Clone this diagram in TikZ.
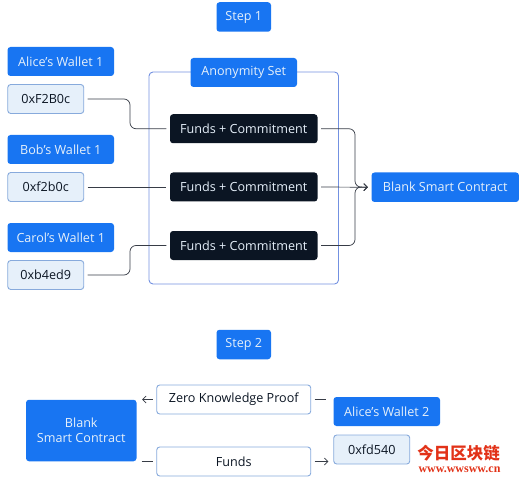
\documentclass[tikz,border=0pt]{standalone}
\usepackage{fontspec}
\setmainfont{Open Sans}
\newfontfamily\cjkfont{Noto Sans CJK SC}
\newfontfamily\markfont{Liberation Serif}
\definecolor{blankBlue}{RGB}{24,117,242}
\definecolor{blankDark}{RGB}{11,21,35}
\definecolor{blankLight}{RGB}{230,240,250}
\definecolor{blankEdge}{RGB}{135,170,220}
\definecolor{blankLine}{RGB}{55,60,70}
\definecolor{markRed}{RGB}{226,50,24}
\usetikzlibrary{arrows.meta,positioning,calc}

\begin{document}
\begin{tikzpicture}[
    x=1pt, y=-1pt,
    box/.style={rounded corners=3pt, inner sep=0pt, font=\fontsize{12.6}{15}\selectfont, align=center},
    blue/.style={box, fill=blankBlue, text=blankLight},
    addr/.style={box, draw=blankEdge, line width=0.9pt, fill=blankLight, text=blankDark,
      minimum width=76pt, minimum height=29pt},
    plain/.style={box, draw=blankEdge, line width=0.9pt, fill=white, text=blankDark,
      minimum width=154pt, minimum height=29pt},
    funds/.style={box, fill=blankDark, text=blankLight, minimum width=147.5pt, minimum height=29pt},
    wallet/.style={blue, minimum width=106.5pt, minimum height=29pt},
    stepbox/.style={blue, minimum width=54.5pt, minimum height=29.5pt},
    link/.style={blankLine, line width=0.7pt, shorten <=3.5pt, shorten >=3.5pt},
    tip/.style={-{Straight Barb[length=3.5pt,width=7pt]}}
  ]
  \useasboundingbox (0,0) rectangle (519,481);
  \draw[blankEdge!85!blue, rounded corners=4pt, line width=0.9pt] (149,72) rectangle (338.5,284);

  \node[stepbox] (step1) at (243.75,17) {Step 1};
  \node[wallet] (set) at (243.75,72.5) {Anonymity Set};
  \node[blue, minimum width=147.5pt, minimum height=29.5pt] (contract1) at (445.25,187.25) {Blank Smart Contract};

  \foreach \n/\name/\hash/\y/\fy in {1/Alice/0xF2B0c/61.5/128.75, 2/Bob/0xf2b0c/149.5/187, 3/Carol/0xb4ed9/237.5/245.5} {
    \node[wallet] (wallet\n) at (60.75,\y) {\name’s Wallet 1};
    \node[addr] (addr\n) at (45.75,\y+37.5) {\hash};
    \node[funds] (funds\n) at (243.75,\fy) {Funds + Commitment};
  }

  \coordinate (bendL) at (130,187);
  \coordinate (bendR) at (355,187);
  \draw[link, rounded corners=6pt] (addr1.east) -- (addr1.east -| bendL) -- (funds1.west -| bendL) -- (funds1.west);
  \draw[link] (addr2.east) -- (funds2.west);
  \draw[link, rounded corners=6pt] (addr3.east) -- (addr3.east -| bendL) -- (funds3.west -| bendL) -- (funds3.west);
  \draw[link, tip, rounded corners=6pt] (funds1.east) -- (funds1.east -| bendR) -- (bendR) -- (contract1.west);
  \draw[link, tip] (funds2.east) -- (contract1.west);
  \draw[link, tip, rounded corners=6pt] (funds3.east) -- (funds3.east -| bendR) -- (bendR) -- (contract1.west);

  \node[stepbox] (step2) at (243.75,344.5) {Step 2};
  \node[plain] (proof) at (233.75,399.5) {Zero Knowledge Proof};
  \node[plain] (cash) at (233.75,461.5) {Funds};
  \node[blue, minimum width=110.5pt, minimum height=61.5pt] (contract2) at (81.25,430.5) {Blank\\Smart Contract};
  \node[wallet] (wallet4) at (386.75,411.5) {Alice’s Wallet 2};
  \node[addr] (addr4) at (371.75,449.5) {0xfd540};

  \draw[link, tip, shorten >=5.5pt] (proof.west) -- (proof.west -| contract2.east);
  \draw[link, shorten >=7.5pt] (proof.east) -- (proof.east -| wallet4.west);
  \draw[link, shorten <=5pt] (contract2.south east) -- (contract2.south east -| cash.west);
  \draw[link, tip, shorten >=5pt] (cash.east) -- (cash.east -| addr4.west);

  \node[text=markRed, font=\cjkfont\bfseries\fontsize{16.5}{18}\selectfont, inner sep=0pt] (mark) at (458.5,453) {今日区块链};
  \node[text=markRed, font=\markfont\bfseries\fontsize{12}{14}\selectfont, inner sep=0pt] (site) at (459.5,469.5) {www.wwsww.cn};
\end{tikzpicture}
\end{document}
